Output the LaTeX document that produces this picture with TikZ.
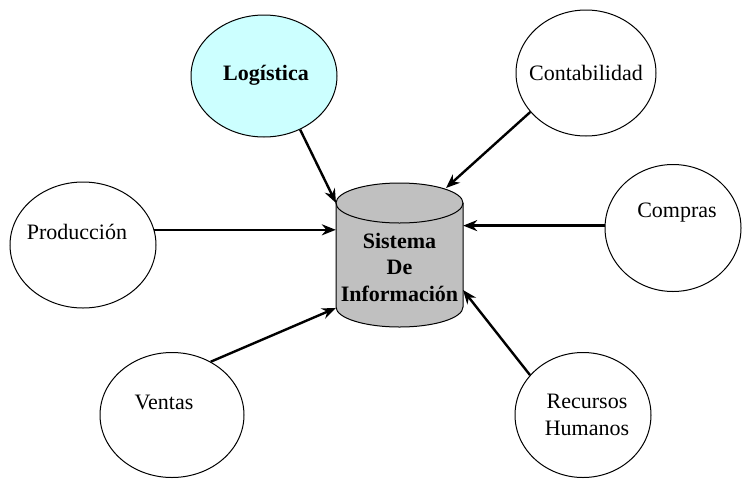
\documentclass[tikz,border=0pt]{standalone}
\usepackage{fontspec}
\setmainfont{Liberation Serif}
\usetikzlibrary{shapes.geometric,arrows.meta}
\definecolor{logcyan}{RGB}{204,255,255}
\definecolor{cylgray}{RGB}{192,192,192}
\tikzset{
  dept/.style={ellipse, draw=black, line width=1pt, inner sep=0pt, fill=white},
  lbl/.style={font=\fontsize{22}{26.5}\selectfont, inner sep=0pt, align=center},
  flow/.style={line width=2.4pt, -{Stealth[length=14pt,width=11pt]}},
}
\begin{document}
\begin{tikzpicture}[x=1pt,y=-1pt]
\useasboundingbox[fill=white] (0,0) rectangle (742,480);

% department ellipses
\node[dept, fill=logcyan, minimum width=146pt, minimum height=122pt] (logistica) at (264,76) {};
\node[dept, minimum width=140pt, minimum height=126pt] (contab) at (586,73) {};
\node[dept, minimum width=146pt, minimum height=126pt] (prod) at (83,245) {};
\node[dept, minimum width=136pt, minimum height=127pt] (compras) at (673,228) {};
\node[dept, minimum width=144pt, minimum height=125pt] (ventas) at (172,415) {};
\node[dept, minimum width=136pt, minimum height=125pt] (rrhh) at (583,415) {};

% labels
\node[lbl, font=\fontsize{22}{26.5}\selectfont\bfseries] (tlog) at (266,75) {Logística};
\node[lbl] (tcont) at (586,73) {Contabilidad};
\node[lbl] (tprod) at (77,232) {Producción};
\node[lbl] (tcomp) at (677,213) {Compras};
\node[lbl] (tvent) at (164,402) {Ventas};
\node[lbl] (trrhh) at (587,415) {Recursos\\Humanos};

% cylinder
\fill[cylgray] (336,203) -- (336,307) arc[start angle=180,end angle=0,x radius=63.5,y radius=20]
  -- (463,203) arc[start angle=0,end angle=-180,x radius=63.5,y radius=20] -- cycle;
\draw[line width=1pt] (336,203) -- (336,307) arc[start angle=180,end angle=0,x radius=63.5,y radius=20] -- (463,203);
\draw[line width=1pt] (399.5,203) ellipse [x radius=63.5,y radius=20];
\node[minimum width=127pt, minimum height=144pt, inner sep=0pt] (sis) at (399.5,255) {};
\node[lbl, font=\fontsize{22}{26.5}\selectfont\bfseries] (tsis) at (399.5,267) {Sistema\\De\\Información};

% arrow end points on the cylinder
\coordinate (eLog) at (336,203);
\coordinate (eCont) at (446,188);
\coordinate (eVent) at (336,308);
\coordinate (eRrhh) at (463,290);

% connectors
\draw[flow] (logistica.-56) -- (eLog);
\draw[flow] (contab.215) -- (eCont);
\draw[flow] (prod.12) -- (prod.12 -| sis.west);
\draw[flow] (compras.178) -- (compras.178 -| sis.east);
\draw[flow] (ventas.54) -- (eVent);
\draw[flow] (rrhh.143) -- (eRrhh);
\end{tikzpicture}
\end{document}
